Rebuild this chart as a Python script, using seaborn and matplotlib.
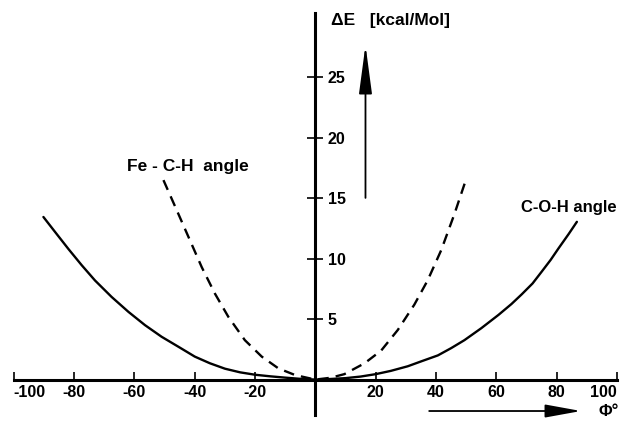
import numpy as np
import pandas as pd
import matplotlib
matplotlib.use("Agg")
import matplotlib.pyplot as plt
import seaborn as sns

# values (phi in degrees, dE in kcal/Mol)
coh_phi = [-90.2, -86.3, -81.9, -77.5, -73.1, -67.6, -62, -56.5, -51, -45.4, -40, -35, -30, -25, -20,
           -15, -10, -5, 0, 5, 10, 15, 20, 25, 30.6, 35, 40.6, 45, 49.4, 55, 60.7, 65, 68.4, 72,
           75.1, 78, 80.6, 84, 86.7]
coh_dE = [13.45, 12.2, 10.8, 9.46, 8.2, 6.84, 5.6, 4.5, 3.54, 2.71, 1.9, 1.35, 0.9, 0.6, 0.4,
          0.27, 0.16, 0.06, 0.0, 0.05, 0.12, 0.25, 0.45, 0.72, 1.1, 1.5, 2.0, 2.6, 3.26, 4.25, 5.35,
          6.25, 7.05, 7.95, 8.95, 9.9, 10.85, 12.05, 13.05]

fch_phi = [-50.4, -46.5, -42.1, -37.7, -33.3, -28.9, -23.4, -17.8, -12.3, -6.7, 0, 5, 9.6, 16.3,
           21.8, 27.3, 32.8, 37.2, 41.7, 46.1, 50]
fch_dE = [16.5, 14.3, 11.8, 9.3, 7.1, 5.2, 3.26, 1.9, 0.93, 0.37, 0.0, 0.15, 0.45, 1.35, 2.4, 4.1,
          6.2, 8.2, 10.7, 13.7, 16.6]

x_ticks = [-100, -80, -60, -40, -20, 20, 40, 60, 80, 100]
y_ticks = [5, 10, 15, 20, 25]

sns.set_style("white")
plt.rcParams['font.family'] = ['Liberation Sans', 'DejaVu Sans']
plt.rcParams['font.weight'] = 'bold'
plt.rcParams['text.color'] = 'black'
plt.rcParams['xtick.color'] = 'black'
plt.rcParams['ytick.color'] = 'black'

fig = plt.figure(figsize=(6.2, 4.26), dpi=100)
ax = fig.add_axes([0, 0, 1, 1])

sns.lineplot(x=coh_phi, y=coh_dE, ax=ax, color='black', lw=1.7, sort=False)
sns.lineplot(x=fch_phi, y=fch_dE, ax=ax, color='black', lw=1.7, sort=False,
             linestyle=(0, (4.5, 3)))

ax.set_xlim(-104.6, 101.0)
ax.set_ylim(-3.84, 31.4)

# axes crossing at the origin
for s in ['top', 'left']:
    ax.spines[s].set_visible(False)
ax.spines['bottom'].set_position(('data', 0))
ax.spines['bottom'].set_bounds(-100, 100)
ax.spines['bottom'].set_linewidth(2.2)
ax.spines['bottom'].set_color('black')
ax.spines['right'].set_position(('data', 0))
ax.spines['right'].set_bounds(-2.9, 30.3)
ax.spines['right'].set_linewidth(2.2)
ax.spines['right'].set_color('black')

ax.xaxis.set_ticks_position('bottom')
ax.yaxis.set_ticks_position('right')
ax.set_xticks(x_ticks)
ax.set_xticklabels([str(v) for v in x_ticks])
ax.set_yticks(y_ticks)
ax.set_yticklabels([str(v) for v in y_ticks])
ax.tick_params(axis='x', direction='in', length=6, width=1.2, pad=4, labelsize=11.5)
ax.tick_params(axis='y', direction='inout', length=11, width=1.2, pad=3.5, labelsize=11.5)
xl = ax.get_xticklabels()
xl[0].set_ha('left')
xl[-1].set_ha('right')

ax.text(5.3, 29.7, '\u0394E   [kcal/Mol]', fontsize=12.5, va='center', ha='left')
ax.text(-62.5, 17.6, 'Fe - C-H  angle', fontsize=12.5, va='center', ha='left')
ax.text(68.3, 14.2, 'C-O-H angle', fontsize=12, va='center', ha='left')
ax.text(94, -2.6, '\u03a6\u00b0', fontsize=12, va='center', ha='left')

ax.annotate('', xy=(16.6, 27.9), xytext=(16.6, 14.8),
            arrowprops=dict(arrowstyle='-|>,head_length=3.0,head_width=0.4', color='black', lw=1.3))
ax.annotate('', xy=(89, -2.6), xytext=(36.8, -2.6),
            arrowprops=dict(arrowstyle='-|>,head_length=2.2,head_width=0.4', color='black', lw=1.3))

plt.savefig('out.png', dpi=100)
